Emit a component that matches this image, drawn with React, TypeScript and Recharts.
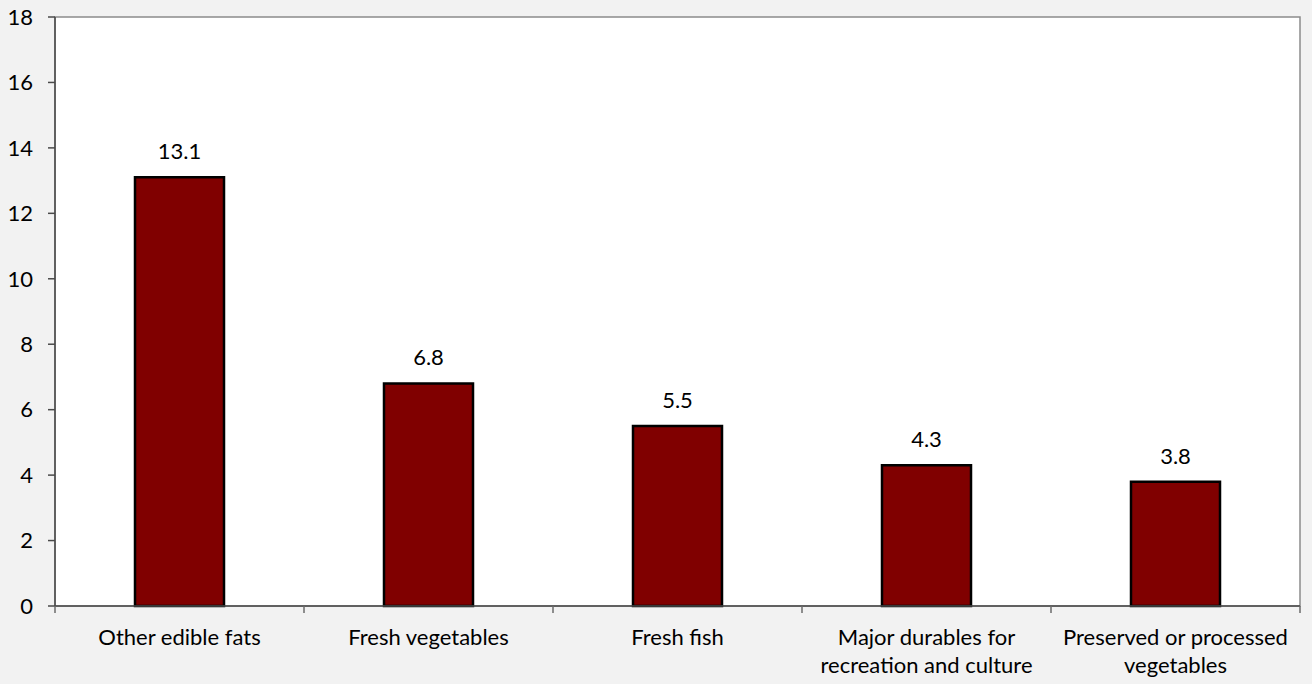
import React from "react";
import {
	BarChart,
	Bar,
	XAxis,
	YAxis,
	ReferenceArea,
	LabelList,
} from "recharts";

const categories = [
	"Other edible fats",
	"Fresh vegetables",
	"Fresh fish",
	"Major durables for\nrecreation and culture",
	"Preserved or processed\nvegetables",
];
const values = [13.1, 6.8, 5.5, 4.3, 3.8];
const yTicks = [0, 2, 4, 6, 8, 10, 12, 14, 16, 18];

const data = categories.map((name, i) => ({ name, value: values[i] }));

const FONT = "Lato, 'Open Sans', sans-serif";
const FONT_SIZE = 22;

// category label plus the tick marks that sit between the categories
// eslint-disable-next-line @typescript-eslint/no-explicit-any
function CategoryTick(props: any) {
	const { x, y, payload, index } = props;
	const half = payload.offset ?? 0;
	const lines = String(payload.value).split("\n");
	const last = index === categories.length - 1;
	return (
		<g>
			<line x1={x - half} x2={x - half} y1={y} y2={y + 7} stroke="#6b6b6b" strokeWidth={1.5} />
			{last && (
				<line x1={x + half} x2={x + half} y1={y} y2={y + 7} stroke="#6b6b6b" strokeWidth={1.5} />
			)}
			<text x={x} y={y} textAnchor="middle" fill="#000" fontSize={FONT_SIZE} fontFamily={FONT}>
				{lines.map((line, i) => (
					<tspan key={i} x={x} dy={i === 0 ? 39 : 28}>
						{line}
					</tspan>
				))}
			</text>
		</g>
	);
}

export default function App() {
	return (
		<div
			style={{
				position: "absolute",
				left: 0,
				top: 0,
				width: 1312,
				height: 684,
				background: "#f2f2f2",
			}}
		>
			<BarChart
				width={1312}
				height={684}
				data={data}
				margin={{ top: 17, right: 12, bottom: 0, left: 0 }}
				style={{ fontFamily: FONT }}
			>
				<ReferenceArea
					y1={0}
					y2={18}
					fill="#ffffff"
					fillOpacity={1}
					stroke="#8c8c8c"
					strokeWidth={1.5}
				/>
				<XAxis
					dataKey="name"
					height={78}
					stroke="#4a4a4a"
					strokeWidth={1.5}
					tickLine={false}
					tickSize={0}
					tickMargin={0}
					interval={0}
					tick={CategoryTick}
				/>
				<YAxis
					domain={[0, 18]}
					ticks={yTicks}
					width={55}
					tickSize={7}
					tickMargin={15}
					stroke="#4a4a4a"
					strokeWidth={1.5}
					tick={{ fill: "#000", fontSize: FONT_SIZE, fontFamily: FONT }}
				/>
				<Bar
					dataKey="value"
					fill="#800000"
					stroke="#000000"
					strokeWidth={2.5}
					barSize={89}
					isAnimationActive={false}
				>
					<LabelList
						dataKey="value"
						position="top"
						offset={18}
						fill="#000"
						fontSize={FONT_SIZE}
						fontFamily={FONT}
					/>
				</Bar>
			</BarChart>
		</div>
	);
}
